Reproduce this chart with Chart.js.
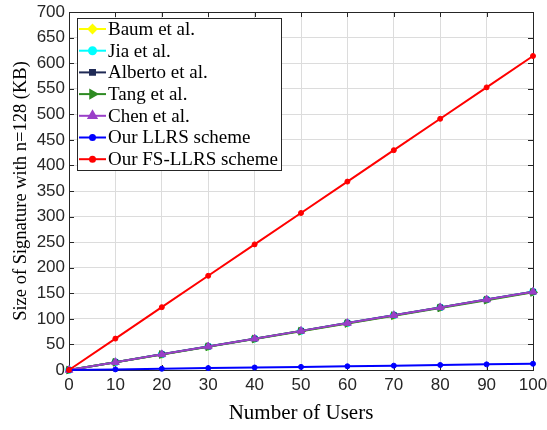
<!DOCTYPE html>
<html>
<head>
<meta charset="utf-8">
<script src="https://cdn.jsdelivr.net/npm/chart.js@4"></script>
<style>
    html, body { margin: 0; padding: 0; background: #fff; }
    #wrap { width: 547px; height: 430px; }
</style>
</head>
<body>
<div id="wrap"><canvas id="chart-sig" width="547" height="430"></canvas></div>
<script>
// 데이터
const users = [0, 10, 20, 30, 40, 50, 60, 70, 80, 90, 100];
const baumData = [0, 15.2, 30.5, 45.7, 61.0, 76.2, 91.5, 106.7, 122.0, 137.2, 152.5];
const jiaData = [0, 15.3, 30.6, 45.9, 61.2, 76.5, 91.8, 107.1, 122.4, 137.7, 153.0];
const albertoData = [0, 15.3, 30.6, 45.9, 61.2, 76.5, 91.8, 107.1, 122.4, 137.7, 153.0];
const tangData = [0, 15.1, 30.3, 45.4, 60.6, 75.8, 91.0, 106.2, 121.4, 136.6, 151.8];
const chenData = [0, 15.3, 30.6, 45.9, 61.2, 76.5, 91.8, 107.1, 122.4, 137.7, 153.0];
const llrsData = [0, 1.2, 2.4, 3.7, 4.9, 6.1, 7.3, 8.5, 9.8, 11.0, 12.2];
const fsllrsData = [0, 61.4, 122.8, 184.2, 245.6, 307.0, 368.4, 429.8, 491.2, 552.6, 614.0];

const xTicks = [0, 10, 20, 30, 40, 50, 60, 70, 80, 90, 100];
const yMax = 700;
const yStep = 50;

const seriesNames = ["Baum et al.", "Jia et al.", "Alberto et al.", "Tang et al.", "Chen et al.", "Our LLRS scheme", "Our FS-LLRS scheme"];
const seriesValues = [baumData, jiaData, albertoData, tangData, chenData, llrsData, fsllrsData];

// 스타일
const seriesStyles = [
    { color: '#FFFF00', point: 'rectRot', radius: 4, rotation: 0 },
    { color: '#00FFFF', point: 'circle', radius: 3.5, rotation: 0 },
    { color: '#1F2A55', point: 'rect', radius: 3.5, rotation: 0 },
    { color: '#2E8B22', point: 'triangle', radius: 4.5, rotation: 90 },
    { color: '#9A3FC8', point: 'triangle', radius: 4.5, rotation: 0 },
    { color: '#0000FF', point: 'circle', radius: 2.5, rotation: 0 },
    { color: '#FF0000', point: 'circle', radius: 2.5, rotation: 0 }
];

const axisColor = '#262626';
const serif = '"Liberation Serif", "Times New Roman", serif';
const sans = '"Liberation Sans", Arial, sans-serif';

const datasets = seriesNames.map((name, i) => ({
    label: name,
    data: users.map((u, j) => ({ x: u, y: seriesValues[i][j] })),
    borderColor: seriesStyles[i].color,
    backgroundColor: seriesStyles[i].color,
    borderWidth: 2,
    pointStyle: seriesStyles[i].point,
    pointRadius: seriesStyles[i].radius,
    pointRotation: seriesStyles[i].rotation,
    pointBorderWidth: 1,
    pointBorderColor: seriesStyles[i].color,
    pointBackgroundColor: seriesStyles[i].color,
    order: seriesNames.length - i,
    clip: false
}));

// 박스 + 안쪽 눈금 + 범례
const boxPlugin = {
    id: 'boxPlugin',
    beforeDatasetsDraw(chart) {
        const { ctx, chartArea: a, scales } = chart;
        ctx.save();
        ctx.strokeStyle = axisColor;
        ctx.lineWidth = 1;
        ctx.beginPath();
        xTicks.forEach(v => {
            const px = Math.round(scales.x.getPixelForValue(v)) + 0.5;
            ctx.moveTo(px, a.bottom); ctx.lineTo(px, a.bottom - 5);
            ctx.moveTo(px, a.top); ctx.lineTo(px, a.top + 5);
        });
        for (let v = 0; v <= yMax; v += yStep) {
            const py = Math.round(scales.y.getPixelForValue(v)) + 0.5;
            ctx.moveTo(a.left, py); ctx.lineTo(a.left + 5, py);
            ctx.moveTo(a.right, py); ctx.lineTo(a.right - 5, py);
        }
        ctx.stroke();
        ctx.strokeRect(Math.round(a.left) + 0.5, Math.round(a.top) + 0.5,
            Math.round(a.right - a.left), Math.round(a.bottom - a.top));
        ctx.restore();
    },
    afterDraw(chart) {
        const { ctx, chartArea: a } = chart;
        const bx = a.left + 8, by = a.top + 6, bw = 204, bh = 152;
        const rowH = 21.7;
        ctx.save();
        ctx.fillStyle = '#fff';
        ctx.fillRect(bx, by, bw, bh);
        ctx.strokeStyle = axisColor;
        ctx.lineWidth = 1;
        ctx.strokeRect(Math.round(bx) + 0.5, Math.round(by) + 0.5, bw, bh);
        ctx.font = '19px ' + serif;
        ctx.textBaseline = 'middle';
        seriesNames.forEach((name, i) => {
            const y = by + 11 + i * rowH;
            const st = seriesStyles[i];
            ctx.strokeStyle = st.color;
            ctx.lineWidth = 2;
            ctx.beginPath();
            ctx.moveTo(bx + 2, y); ctx.lineTo(bx + 29, y);
            ctx.stroke();
            ctx.fillStyle = st.color;
            Chart.helpers.drawPoint(ctx, {
                pointStyle: st.point, rotation: st.rotation,
                radius: st.radius, borderWidth: 1
            }, bx + 15.5, y);
            ctx.fillStyle = '#000';
            ctx.fillText(name, bx + 31, y + 1);
        });
        ctx.restore();
    }
};

const config_sig = {
    type: 'line',
    data: { datasets: datasets },
    plugins: [boxPlugin],
    options: {
        responsive: false,
        animation: false,
        layout: { padding: { left: 6, right: 14, top: 12, bottom: 0 } },
        scales: {
            x: {
                type: 'linear',
                min: 0,
                max: 100,
                afterBuildTicks: axis => { axis.ticks = xTicks.map(v => ({ value: v })); },
                afterFit: axis => { axis.height = 60; axis.paddingRight = 0; axis.paddingLeft = 0; },
                grid: { color: '#dcdcdc', drawTicks: false },
                border: { display: false },
                ticks: {
                    padding: 5,
                    color: axisColor,
                    font: { family: sans, size: 17 }
                },
                title: {
                    display: true,
                    text: 'Number of Users',
                    color: '#000',
                    padding: { top: 0 },
                    font: { family: serif, size: 21 }
                }
            },
            y: {
                min: 0,
                max: yMax,
                afterFit: axis => { axis.width = 63; axis.paddingTop = 0; axis.paddingBottom = 0; },
                grid: { color: '#dcdcdc', drawTicks: false },
                border: { display: false },
                ticks: {
                    stepSize: yStep,
                    padding: 4,
                    color: axisColor,
                    font: { family: sans, size: 17 }
                },
                title: {
                    display: true,
                    text: 'Size of Signature with n=128 (KB)',
                    color: '#000',
                    padding: { bottom: 0 },
                    font: { family: serif, size: 18.5 }
                }
            }
        },
        plugins: {
            legend: { display: false },
            tooltip: { enabled: false }
        }
    }
};

const sigChart = new Chart(document.getElementById('chart-sig'), config_sig);
</script>
</body>
</html>
